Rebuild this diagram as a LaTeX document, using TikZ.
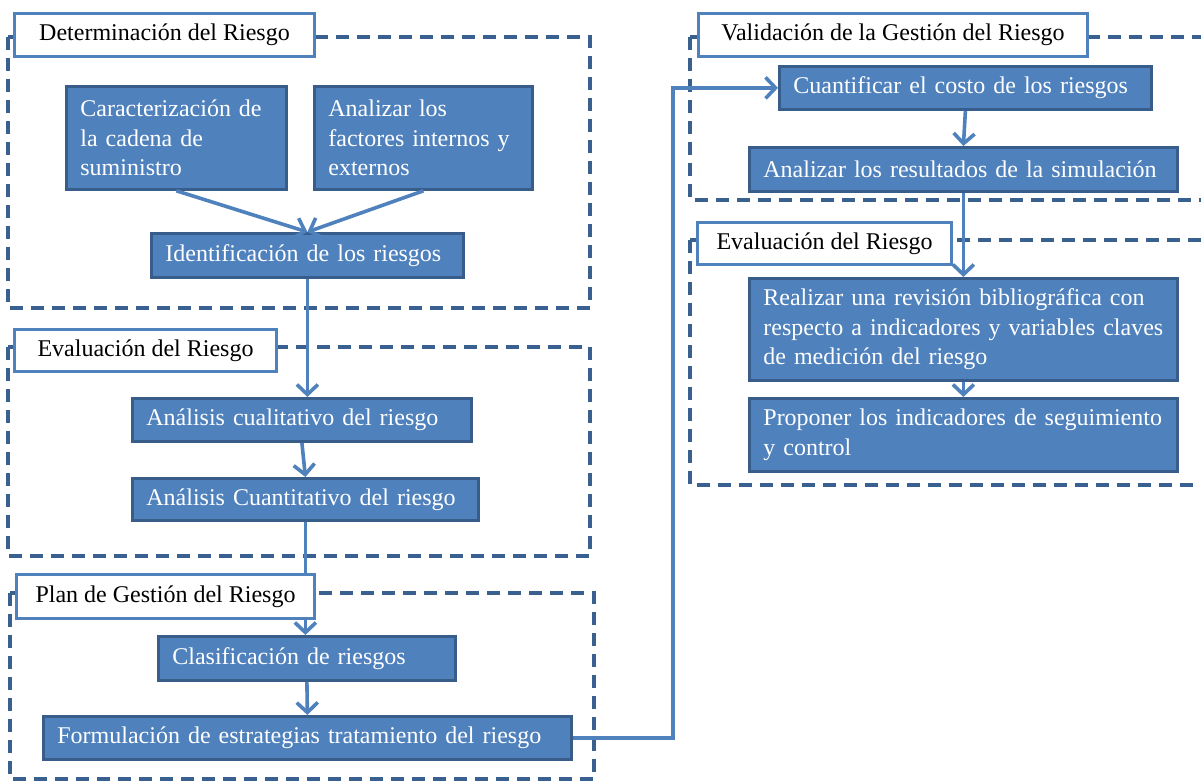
\documentclass[tikz,border=0pt]{standalone}
\usepackage{fontspec}
\setmainfont{Liberation Serif}
\usetikzlibrary{arrows.meta}
\definecolor{boxfill}{HTML}{4F81BD}
\definecolor{boxedge}{HTML}{385D8A}
\definecolor{linkblue}{HTML}{4F81BD}
\definecolor{stageedge}{HTML}{3A6090}
\begin{document}
\begin{tikzpicture}[x=1pt,y=-1pt,
  stage/.style={draw=stageedge, line width=3.2pt, dash pattern=on 13pt off 8pt},
  item/.style={draw=boxedge, fill=boxfill, line width=2.8pt, text=white,
    anchor=north west, inner xsep=14pt, inner ysep=0pt, align=left,
    font=\fontsize{24}{29.5}\selectfont},
  heading/.style={draw=linkblue, fill=white, line width=3pt,
    anchor=north west, inner sep=0pt, align=center,
    font=\fontsize{24}{29.5}\selectfont},
  link/.style={draw=linkblue, line width=3.6pt,
    -{Straight Barb[length=10pt,width=21pt]}},
]
\useasboundingbox (0,0) rectangle (1201,783);
\clip (0,0) rectangle (1201,783);

% dashed stage frames
\draw[stage] (8,37) rectangle (590,308);
\draw[stage] (8,347) rectangle (590,556);
\draw[stage] (10,593) rectangle (594,779);
\draw[stage] (690,37) rectangle (1215,200);
\draw[stage] (690,240) rectangle (1215,485);

% left column steps
\node[item, text width=192pt, minimum height=103pt] (car) at (65,85)
  {Caracterización de\\la cadena de\\suministro};
\node[item, text width=190pt, minimum height=103pt] (ana) at (313,85)
  {Analizar los\\factores internos y\\externos};
\node[item, text width=284pt, minimum height=44pt] (ident) at (150,232)
  {Identificación de los riesgos};
\node[item, text width=311pt, minimum height=43pt] (cual) at (131,397)
  {Análisis cualitativo del riesgo};
\node[item, text width=318pt, minimum height=42pt] (cuan) at (131,477)
  {Análisis Cuantitativo del riesgo};
\node[item, text width=269pt, minimum height=44pt] (clas) at (157,635)
  {Clasificación de riesgos};
\node[item, text width=500pt, minimum height=43pt] (form) at (42,715)
  {Formulación de estrategias tratamiento del riesgo};

% right column steps
\node[item, text width=344pt, minimum height=43pt] (cuant) at (778,65)
  {Cuantificar el costo de los riesgos};
\node[item, text width=400pt, minimum height=44pt] (res) at (748,146)
  {Analizar los resultados de la simulación};
\node[item, text width=400pt, minimum height=102pt] (real) at (748,277)
  {\makebox[400pt][s]{Realizar una revisión bibliográfica con}\\
   \makebox[400pt][s]{respecto a indicadores y variables claves}\\
   de medición del riesgo};
\node[item, text width=400pt, minimum height=73pt] (prop) at (748,397)
  {\makebox[400pt][s]{Proponer los indicadores de seguimiento}\\
   y control};

% connectors
\coordinate (rise) at (673,87);
\draw[link] (car.south) -- (ident.north);
\draw[link] (ana.south) -- (ident.north);
\draw[link] (ident.south) -- (ident.south |- cual.north);
\draw[link] (cual.south) -- (cuan.north);
\draw[link] (cuan.south) -- (cuan.south |- clas.north);
\draw[link] (clas.south) -- (form.north);
\draw[link] (form.east) -- (form.east -| rise) |- (cuant.west);
\draw[link] (cuant.south) -- (res.north);
\draw[link] (res.south) -- (real.north);
\draw[link] (real.south) -- (prop.north);

% stage headings
\node[heading, minimum width=300pt, minimum height=43pt] (h1) at (13,12)
  {Determinación del Riesgo};
\node[heading, minimum width=262pt, minimum height=42pt] (h2) at (13,328)
  {Evaluación del Riesgo};
\node[heading, minimum width=298pt, minimum height=44pt] (h3) at (15,573)
  {Plan de Gestión del Riesgo};
\node[heading, minimum width=389pt, minimum height=43pt] (h4) at (697,12)
  {Validación de la Gestión del Riesgo};
\node[heading, minimum width=254pt, minimum height=42pt] (h5) at (696,221)
  {Evaluación del Riesgo};
\end{tikzpicture}
\end{document}
